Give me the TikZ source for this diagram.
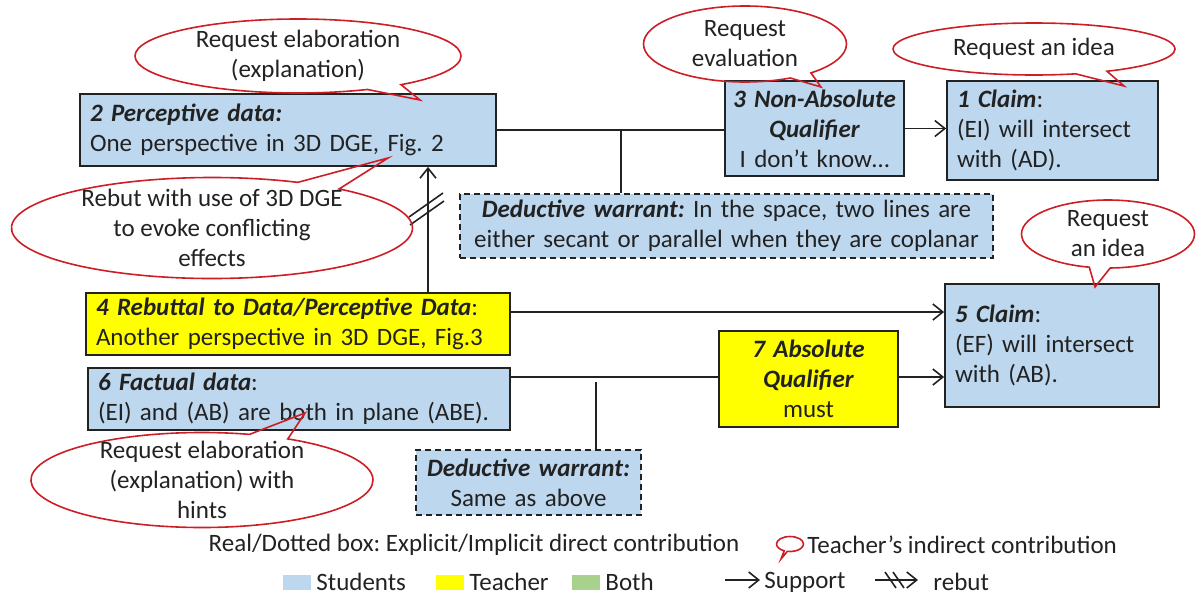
\documentclass[tikz,border=0pt]{standalone}
\usepackage{fontspec}
\setmainfont{Carlito}
\usepackage{xcolor}
\definecolor{studentblue}{RGB}{189, 215, 238}
\definecolor{teacheryellow}{RGB}{255, 255, 0}
\definecolor{bothgreen}{RGB}{169, 209, 142}
\definecolor{bubblered}{RGB}{204, 30, 36}
\definecolor{inkgray}{RGB}{34, 34, 34}
\usepackage{tikz}
\usetikzlibrary{arrows.meta, positioning, calc, shapes.callouts}
\frenchspacing

\begin{document}
\begin{tikzpicture}[x=0.5pt, y=-0.5pt, >={Straight Barb[length=5pt, width=8pt]},
    every node/.style={font=\fontsize{12.5}{15}\selectfont, text=inkgray},
    box/.style={draw=inkgray, line width=0.9pt, inner xsep=5pt, inner ysep=0pt, align=left},
    qualbox/.style={box, inner xsep=0.75pt, align=center},
    implicit/.style={box, dashed, dash pattern=on 3pt off 2pt, fill=studentblue, align=center},
    bubble/.style={ellipse callout, draw=bubblered, line width=0.8pt, inner sep=0pt, callout pointer arc=14},
    link/.style={draw=inkgray, line width=0.8pt},
    support/.style={link, ->}]
    \useasboundingbox (0,0) rectangle (1197,595);
    % argument boxes
    \node[box, fill=studentblue, minimum width=208pt, minimum height=36pt, text width=198pt] (data2) at (288,130)
        {\textbf{\textit{2 Perceptive data:}}\\One perspective in 3D DGE, Fig. 2};
    \node[qualbox, fill=studentblue, minimum width=89.5pt, minimum height=47.5pt, text width=88pt] (qual3) at (814.5,128.5)
        {\mbox{\textbf{\textit{3 Non-Absolute}}}\\\textbf{\textit{Qualifier}}\\I don’t know…};
    \node[box, fill=studentblue, minimum width=105.5pt, minimum height=49.5pt, text width=95.5pt] (claim1) at (1052.5,130.5)
        {\textbf{\textit{1 Claim}}:\\(EI) will intersect\\with (AD).};
    \node[implicit, minimum width=266.5pt, minimum height=32pt, text width=256.5pt] (warrant1) at (726.5,226)
        {\textbf{\textit{Deductive warrant:}} In the space, two lines are\\either secant or parallel when they are coplanar};
    \node[box, fill=teacheryellow, minimum width=212pt, minimum height=31pt, text width=202pt] (rebut4) at (298,324)
        {\textbf{\textit{4 Rebuttal to Data/Perceptive Data}}:\\Another perspective in 3D DGE, Fig.3};
    \node[box, fill=studentblue, minimum width=211pt, minimum height=31pt, text width=201pt] (fact6) at (299,399)
        {\textbf{\textit{6 Factual data}}:\\(EI) and (AB) are both in plane (ABE).};
    \node[box, fill=studentblue, minimum width=107pt, minimum height=61.5pt, text width=97pt] (claim5) at (1052,345.5)
        {\textbf{\textit{5 Claim}}:\\(EF) will intersect\\with (AB).};
    \node[qualbox, fill=teacheryellow, minimum width=89.5pt, minimum height=48pt, text width=88pt] (qual7) at (808.5,379)
        {\textbf{\textit{7 Absolute}}\\\textbf{\textit{Qualifier}}\\must};
    \node[implicit, minimum width=112.5pt, minimum height=32.5pt, text width=102.5pt] (warrant2) at (528.5,482.5)
        {\textbf{\textit{Deductive warrant:}}\\Same as above};

    % connectors
    \coordinate (fork1) at (621,130);
    \coordinate (fork2) at (596,382);
    \coordinate (riser) at (428,300);
    \coordinate (cut1) at (426,209);
    \draw[link] (data2.east) -- (data2.east -| qual3.west);
    \draw[link] (fork1) -- (fork1 |- warrant1.north);
    \draw[support] (qual3.east) -- (qual3.east -| claim1.west);
    \draw[support] (rebut4.north -| riser) -- (data2.south -| riser);
    \draw[link] ([shift={(-17,8)}]cut1) -- ++(34,-24);
    \draw[link] ([shift={(-16,16)}]cut1) -- ++(34,-24);
    \draw[support] ([shift={(0,-12)}]rebut4.east) -- ([shift={(0,-12)}]rebut4.east -| claim5.west);
    \draw[link] ([shift={(0,-22)}]fact6.east) -- ([shift={(0,-22)}]fact6.east -| qual7.west);
    \draw[support] ([shift={(0,-2)}]qual7.east) -- ([shift={(0,-2)}]qual7.east -| claim5.west);
    \draw[link] (fork2) -- (fork2 |- warrant2.north);

    % teacher's callouts
    \node[bubble, minimum width=163pt, minimum height=37pt, callout absolute pointer={(420,100)}] (ask1) at (298,56) {};
    \node[align=center] (ask1txt) at (ask1) {Request elaboration\\(explanation)};
    \node[bubble, minimum width=101.5pt, minimum height=38pt, callout absolute pointer={(821,87)}] (ask2) at (745,44) {};
    \node[align=center] (ask2txt) at (ask2) {Request\\evaluation};
    \node[bubble, minimum width=141pt, minimum height=26pt, callout absolute pointer={(1124,86)}] (ask3) at (1034,49) {};
    \node[align=center] (ask3txt) at (ask3) {Request an idea};
    \node[bubble, minimum width=200.5pt, minimum height=50.5pt, callout absolute pointer={(388,158)}] (ask4) at (212,228) {};
    \node[align=center] (ask4txt) at (ask4) {Rebut with use of 3D DGE\\to evoke conflicting\\effects};
    \node[bubble, minimum width=86.5pt, minimum height=34pt, callout absolute pointer={(1095,287)}] (ask5) at (1108,234) {};
    \node[align=center] (ask5txt) at (ask5) {Request\\an idea};
    \node[bubble, minimum width=171pt, minimum height=47.5pt, callout absolute pointer={(305,413)}] (ask6) at (202,480) {};
    \node[align=center] (ask6txt) at (ask6) {Request elaboration\\(explanation) with\\hints};

    % legend
    \node (keybox) at (474,545) {Real/Dotted box: Explicit/Implicit direct contribution};
    \node[bubble, minimum width=13.5pt, minimum height=7.5pt, callout absolute pointer={(781,559)}] (keybubble) at (790,544) {};
    \node[anchor=west, inner sep=0pt] (keyteacher) at (807,545) {Teacher’s indirect contribution};
    \node[fill=studentblue, minimum width=14pt, minimum height=7.5pt, inner sep=0pt] (swatch1) at (297,582) {};
    \node[anchor=west, inner sep=0pt] (keystudents) at (316,582) {Students};
    \node[fill=teacheryellow, minimum width=14pt, minimum height=7.5pt, inner sep=0pt] (swatch2) at (449.5,582) {};
    \node[anchor=west, inner sep=0pt] (keyteach) at (469,582) {Teacher};
    \node[fill=bothgreen, minimum width=14pt, minimum height=7.5pt, inner sep=0pt] (swatch3) at (585.5,582) {};
    \node[anchor=west, inner sep=0pt] (keyboth) at (605,582) {Both};
    \coordinate (sup1) at (725,580);
    \coordinate (sup2) at (760,580);
    \draw[support] (sup1) -- (sup2);
    \node[anchor=west, inner sep=0pt] (keysupport) at (764,582) {Support};
    \coordinate (reb1) at (875,580);
    \coordinate (reb2) at (918,580);
    \draw[support] (reb1) -- (reb2);
    \draw[link] (885,572) -- ++(11,16);
    \draw[link] (893,572) -- ++(11,16);
    \node[anchor=west, inner sep=0pt] (keyrebut) at (933,582) {rebut};
\end{tikzpicture}
\end{document}
